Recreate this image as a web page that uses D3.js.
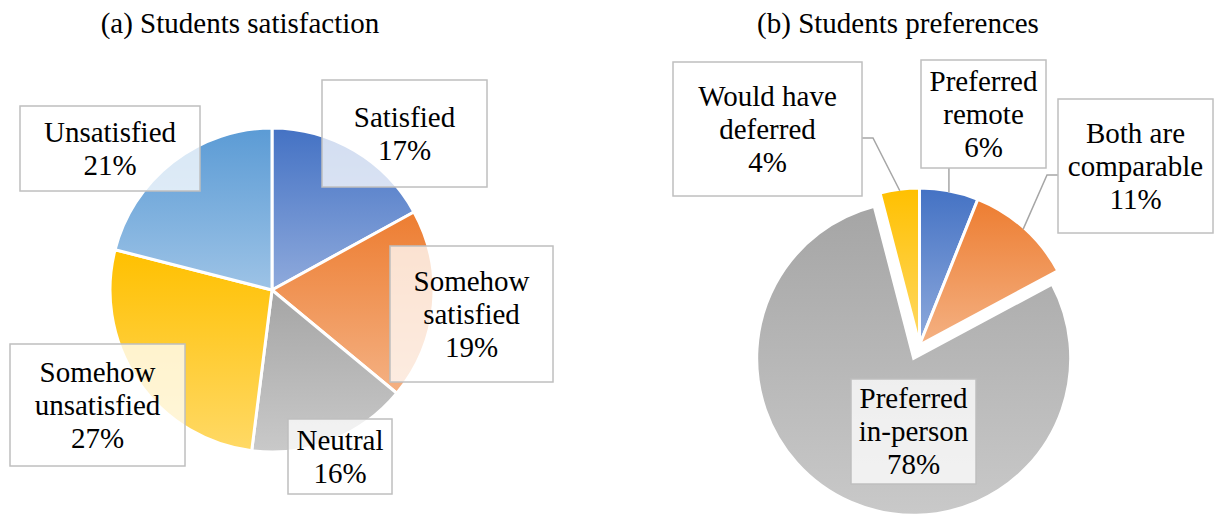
<!DOCTYPE html>
<html>
<head>
<meta charset="utf-8">
<script src="https://cdn.jsdelivr.net/npm/d3@7"></script>
<style>
  body { margin: 0; background: #fff; }
</style>
</head>
<body>
<svg id="chart" width="1216" height="515"></svg>
<script>
// Data

const satisfactionLabels = [['Satisfied'], ['Somehow', 'satisfied'], ['Neutral'], ['Somehow', 'unsatisfied'], ['Unsatisfied']];
const satisfactionValues = [17, 19, 16, 27, 21];

const preferenceLabels = [['Preferred', 'remote'], ['Both are', 'comparable'], ['Preferred', 'in-person'], ['Would have', 'deferred']];
const preferenceValues = [6, 11, 78, 4];

const titles = ['(a) Students satisfaction', '(b) Students preferences'];

// Colours (top of gradient, bottom of gradient)
const blue = ['#4472C4', '#8FAADC'];
const orange = ['#ED7D31', '#F4B183'];
const gray = ['#A5A5A5', '#C9C9C9'];
const yellow = ['#FFC000', '#FFD966'];
const lightBlue = ['#5B9BD5', '#9DC3E6'];

const satisfactionColors = [blue, orange, gray, yellow, lightBlue];
const preferenceColors = [blue, orange, gray, yellow];

// Layout of the label boxes, placed by hand like in the original
const satisfactionBoxes = [
    {x: 322, y: 80, w: 165, h: 107},
    {x: 390, y: 246, w: 163, h: 136},
    {x: 288, y: 419, w: 104, h: 75},
    {x: 10, y: 344, w: 175, h: 122},
    {x: 20, y: 106, w: 180, h: 85}
];
const preferenceBoxes = [
    {x: 921, y: 60, w: 125, h: 108, leader: 'bottom'},
    {x: 1058, y: 99, w: 155, h: 134, leader: 'left', ly: 175},
    {x: 851, y: 379, w: 125, h: 105},
    {x: 673, y: 62, w: 189, h: 134, leader: 'right', ly: 138}
];

const svg = d3.select('#chart');
const defs = svg.append('defs');

const fontFamily = '"Liberation Serif", "DejaVu Serif", "Times New Roman", Times, serif';
const fontSize = 29;
const lineHeight = 33;

const makeGradients = (prefix, colors) => {
    colors.forEach((c, i) => {
        const grad = defs.append('linearGradient')
            .attr('id', `${prefix}${i}`)
            .attr('x1', 0).attr('y1', 0)
            .attr('x2', 0).attr('y2', 1);
        grad.append('stop').attr('offset', '0%').attr('stop-color', c[0]);
        grad.append('stop').attr('offset', '100%').attr('stop-color', c[1]);
    });
};

makeGradients('gs', satisfactionColors);
makeGradients('gp', preferenceColors);

const pie = d3.pie().sort(null).value(d => d);

const drawLabel = (g, box, lines) => {
    g.append('rect')
        .attr('x', box.x)
        .attr('y', box.y)
        .attr('width', box.w)
        .attr('height', box.h)
        .attr('fill', '#fff')
        .attr('fill-opacity', 0.76)
        .attr('stroke', '#BFBFBF')
        .attr('stroke-width', 1.5);

    const cy = box.y + box.h / 2;
    const cx = box.x + box.w / 2;
    const n = lines.length;
    lines.forEach((line, i) => {
        g.append('text')
            .attr('x', cx)
            .attr('y', cy + (i - (n - 1) / 2) * lineHeight + fontSize * 0.33)
            .attr('text-anchor', 'middle')
            .attr('font-family', fontFamily)
            .attr('font-size', fontSize + 'px')
            .attr('fill', '#000')
            .text(line);
    });
};

const render = (opts) => {
    const {cx, cy, radius, values, labels, boxes, gradPrefix, explode, title, titleX} = opts;
    const arcs = pie(values);
    const arc = d3.arc().innerRadius(0).outerRadius(radius);

    const g = svg.append('g');

    g.append('text')
        .attr('x', titleX)
        .attr('y', 33)
        .attr('text-anchor', 'middle')
        .attr('font-family', fontFamily)
        .attr('font-size', fontSize + 'px')
        .attr('fill', '#000')
        .text(title);

    const pieG = g.append('g')
        .attr('transform', `translate(${cx}, ${cy})`);

    pieG.selectAll('path').data(arcs)
        .enter().append('path')
            .attr('d', arc)
            .attr('transform', (d, i) => {
                const e = explode[i] || 0;
                const mid = (d.startAngle + d.endAngle) / 2;
                return `translate(${Math.sin(mid) * e}, ${-Math.cos(mid) * e})`;
            })
            .attr('fill', (d, i) => `url(#${gradPrefix}${i})`)
            .attr('stroke', '#fff')
            .attr('stroke-width', 3)
            .attr('stroke-linejoin', 'miter');

    // leader lines
    arcs.forEach((d, i) => {
        const box = boxes[i];
        if (!box.leader) return;
        const mid = (d.startAngle + d.endAngle) / 2;
        const ax = cx + Math.sin(mid) * (radius - 1.5);
        const ay = cy - Math.cos(mid) * (radius - 1.5);
        let pts;
        if (box.leader === 'bottom') {
            pts = [[ax, box.y + box.h], [ax, ay]];
        } else if (box.leader === 'left') {
            pts = [[box.x, box.ly], [box.x - 11, box.ly], [ax, ay]];
        } else {
            pts = [[box.x + box.w, box.ly], [box.x + box.w + 11, box.ly], [ax, ay]];
        }
        g.append('path')
            .attr('d', d3.line()(pts))
            .attr('fill', 'none')
            .attr('stroke', '#A6A6A6')
            .attr('stroke-width', 1.5);
    });

    arcs.forEach((d, i) => {
        drawLabel(g, boxes[i], labels[i].concat([values[i] + '%']));
    });
};

// (a) Students satisfaction
render({
    cx: 272, cy: 290, radius: 162,
    values: satisfactionValues,
    labels: satisfactionLabels,
    boxes: satisfactionBoxes,
    gradPrefix: 'gs',
    explode: [],
    title: titles[0],
    titleX: 240
});

// (b) Students preferences
render({
    cx: 919.5, cy: 345, radius: 157,
    values: preferenceValues,
    labels: preferenceLabels,
    boxes: preferenceBoxes,
    gradPrefix: 'gp',
    explode: [0, 0, 14.5, 0],
    title: titles[1],
    titleX: 898
});
</script>
</body>
</html>
